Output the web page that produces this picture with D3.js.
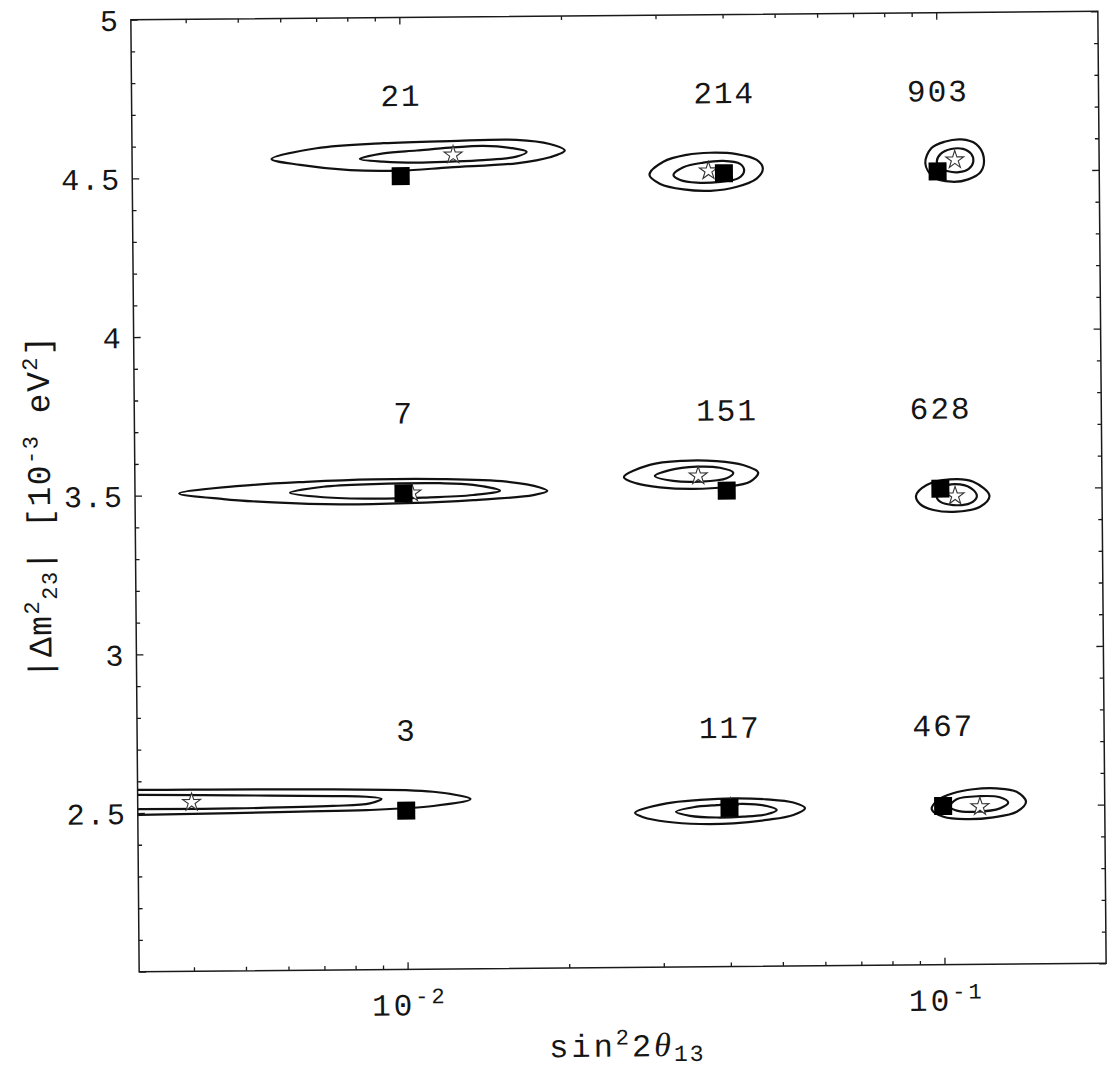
<!DOCTYPE html>
<html>
<head>
<meta charset="utf-8">
<script src="https://cdn.jsdelivr.net/npm/d3@7"></script>
<style>
  html, body { margin: 0; padding: 0; background: #fff; }
  svg { display: block; }
  text { font-family: "Liberation Mono", "DejaVu Sans Mono", monospace; fill: #151515; }
</style>
</head>
<body>
<svg id="chart" width="1108" height="1070"></svg>
<script>
// ---- grid of simulated true values (filled squares) ----
const trueSin2 = [0.01, 0.04, 0.1];          // sin^2 2theta13 columns
const trueDm2  = [2.5, 3.5, 4.5];            // |dm^2_23| rows [1e-3 eV^2]
// event counts printed above each point, rows bottom -> top, columns left -> right
const eventCounts = [
  [3, 117, 467],
  [7, 151, 628],
  [21, 214, 903]
];

// ---- best-fit points (open stars): [sin^2 2theta13, dm^2] ----
const bestFit = [
  [0.003985, 2.532], [0.0402, 2.502], [0.1171, 2.497],
  [0.01037, 3.501], [0.03542, 3.547], [0.1065, 3.477],
  [0.01253, 4.565], [0.03743, 4.508], [0.1077, 4.536]
];

// ---- allowed regions: inner and outer confidence contours ----
const outer3 = [[0.0028,2.574],[0.003192,2.573],[0.007311,2.569],[0.01123,2.559],[0.01318,2.535],[0.01123,2.514],[0.008438,2.503],[0.006338,2.500],[0.004763,2.497],[0.003192,2.494],[0.0028,2.494]];
const inner3 = [[0.0028,2.557],[0.003192,2.557],[0.004763,2.553],[0.007311,2.548],[0.008438,2.545],[0.0090,2.538],[0.00856,2.524],[0.007311,2.517],[0.004763,2.512],[0.003192,2.512],[0.0028,2.512]];

const outer117 = [[0.02668,2.487],[0.03055,2.516],[0.03525,2.526],[0.04067,2.530],[0.04693,2.526],[0.0526,2.515],[0.0553,2.497],[0.0526,2.476],[0.04693,2.461],[0.04067,2.451],[0.03525,2.450],[0.03055,2.458],[0.02764,2.473]];
const inner117 = [[0.0318,2.489],[0.03425,2.503],[0.03787,2.509],[0.04245,2.512],[0.04693,2.505],[0.04898,2.492],[0.04693,2.479],[0.04245,2.472],[0.03787,2.470],[0.03377,2.476]];

const outer467 = [[0.09522,2.490],[0.0978,2.519],[0.1044,2.540],[0.1138,2.552],[0.1258,2.554],[0.1371,2.543],[0.1427,2.511],[0.1371,2.480],[0.1240,2.463],[0.1106,2.458],[0.1001,2.466]];
const inner467 = [[0.1030,2.498],[0.1060,2.521],[0.1171,2.530],[0.1276,2.526],[0.1322,2.509],[0.1276,2.491],[0.1155,2.481],[0.1060,2.485]];

const outer7 = [[0.003823,3.506],[0.004961,3.528],[0.006601,3.539],[0.008786,3.545],[0.0117,3.544],[0.01557,3.534],[0.01796,3.515],[0.01853,3.504],[0.01745,3.491],[0.01349,3.477],[0.01014,3.469],[0.007614,3.467],[0.005722,3.475],[0.00462,3.487]];
const inner7 = [[0.006146,3.505],[0.007089,3.523],[0.008786,3.530],[0.0117,3.531],[0.01349,3.525],[0.01513,3.506],[0.01349,3.493],[0.01089,3.486],[0.008786,3.484],[0.007089,3.490]];

const outer151 = [[0.02575,3.545],[0.02878,3.583],[0.0332,3.595],[0.03834,3.593],[0.04295,3.580],[0.04581,3.556],[0.04421,3.527],[0.0400,3.512],[0.03467,3.506],[0.03004,3.512],[0.02719,3.525]];
const inner151 = [[0.02941,3.548],[0.03136,3.566],[0.03518,3.576],[0.03889,3.572],[0.04117,3.556],[0.0400,3.539],[0.03568,3.529],[0.03181,3.532]];

const outer628 = [[0.09007,3.478],[0.09432,3.512],[0.1042,3.529],[0.1152,3.521],[0.1234,3.476],[0.1185,3.442],[0.1073,3.427],[0.09703,3.433],[0.09165,3.452]];
const inner628 = [[0.09845,3.475],[0.1013,3.506],[0.1088,3.513],[0.1152,3.495],[0.1169,3.474],[0.1135,3.453],[0.1057,3.448],[0.09984,3.459]];

const outer21 = [[0.00575,4.557],[0.00698,4.590],[0.00929,4.604],[0.01236,4.609],[0.01644,4.611],[0.01897,4.597],[0.02023,4.576],[0.01897,4.555],[0.01644,4.537],[0.01236,4.526],[0.00998,4.517],[0.00805,4.520],[0.0065,4.538]];
const inner21 = [[0.0084,4.555],[0.00929,4.572],[0.01072,4.580],[0.01236,4.588],[0.01426,4.593],[0.0160,4.586],[0.01718,4.573],[0.01644,4.558],[0.01426,4.548],[0.01236,4.544],[0.01072,4.542],[0.00929,4.546]];

const outer214 = [[0.02906,4.497],[0.03086,4.538],[0.03412,4.559],[0.03771,4.565],[0.04228,4.560],[0.04607,4.541],[0.04727,4.514],[0.04607,4.483],[0.04228,4.457],[0.03771,4.445],[0.03362,4.450],[0.03042,4.468]];
const inner214 = [[0.03221,4.496],[0.03362,4.520],[0.03664,4.534],[0.03991,4.539],[0.04288,4.529],[0.04362,4.507],[0.04257,4.484],[0.03936,4.473],[0.03561,4.471],[0.03315,4.480]];

const outer903 = [[0.0949,4.526],[0.0974,4.573],[0.1031,4.593],[0.1108,4.600],[0.1181,4.585],[0.1219,4.545],[0.1204,4.498],[0.1140,4.474],[0.1061,4.467],[0.0981,4.483]];
const inner903 = [[0.0997,4.531],[0.1014,4.555],[0.1061,4.570],[0.1116,4.570],[0.1156,4.554],[0.1166,4.530],[0.1143,4.507],[0.1095,4.497],[0.1046,4.500],[0.1010,4.512]];

const contours = [outer3, inner3, outer117, inner117, outer467, inner467,
                  outer7, inner7, outer151, inner151, outer628, inner628,
                  outer21, inner21, outer214, inner214, outer903, inner903];

// ---- axis ticks ----
const xMajorTicks = [0.01, 0.1];
const xMajorLabels = [["10", "-2"], ["10", "-1"]];
const xMinorTicks = [0.004, 0.005, 0.006, 0.007, 0.008, 0.009,
                     0.02, 0.03, 0.04, 0.05, 0.06, 0.07, 0.08, 0.09];
const yMajorTicks = [2, 2.5, 3, 3.5, 4, 4.5, 5];
const yLabelTicks = [2.5, 3, 3.5, 4, 4.5, 5];
const yLabelText = ["2.5", "3", "3.5", "4", "4.5", "5"];
const yMinorTicks = [2.1, 2.2, 2.3, 2.4, 2.6, 2.7, 2.8, 2.9, 3.1, 3.2, 3.3, 3.4,
                     3.6, 3.7, 3.8, 3.9, 4.1, 4.2, 4.3, 4.4, 4.6, 4.7, 4.8, 4.9];

// ---- layout ----
const plot = { left: 135, right: 1102, top: 15.5, bottom: 967.5 };
const tilt = -0.5; // the printed frame sits slightly rotated on the page
const cx = (plot.left + plot.right) / 2, cy = (plot.top + plot.bottom) / 2;

const x = d3.scaleLog().domain([Math.pow(10, -2.5), 0.2]).range([plot.left, plot.right]);
const y = d3.scaleLinear().domain([2, 5]).range([plot.bottom, plot.top]);

const svg = d3.select("#chart");
const g = svg.append("g").attr("transform", `rotate(${tilt} ${cx} ${cy})`);

svg.append("defs").append("clipPath").attr("id", "plotClip")
  .append("rect")
  .attr("x", plot.left).attr("y", plot.top)
  .attr("width", plot.right - plot.left).attr("height", plot.bottom - plot.top);

// contours
const line = d3.line()
  .x(d => x(d[0])).y(d => y(d[1]))
  .curve(d3.curveCatmullRomClosed.alpha(0.5));

g.append("g").attr("clip-path", "url(#plotClip)")
  .selectAll("path").data(contours).join("path")
  .attr("d", line)
  .attr("fill", "none")
  .attr("stroke", "#111")
  .attr("stroke-width", 2.2)
  .attr("stroke-linejoin", "round");

// best-fit stars
const star = d3.symbol(d3.symbolStar).size(100);
g.append("g").selectAll("path").data(bestFit).join("path")
  .attr("transform", d => `translate(${x(d[0])},${y(d[1])})`)
  .attr("d", star)
  .attr("fill", "#fff")
  .attr("stroke", "#333")
  .attr("stroke-width", 1.1);

// true-value squares and event counts
const cells = [];
trueDm2.forEach((dm, i) => trueSin2.forEach((s, j) =>
  cells.push({ s, dm, n: eventCounts[i][j] })));

const square = d3.symbol(d3.symbolSquare).size(18 * 18);
g.append("g").selectAll("path").data(cells).join("path")
  .attr("transform", d => `translate(${x(d.s)},${y(d.dm)})`)
  .attr("d", square)
  .attr("fill", "#000");

g.append("g").selectAll("text").data(cells).join("text")
  .attr("x", d => x(d.s) + 1)
  .attr("y", d => y(d.dm) - 70)
  .attr("text-anchor", "middle")
  .style("font-size", "31px")
  .style("letter-spacing", "2px")
  .text(d => d.n);

// frame
g.append("rect")
  .attr("x", plot.left).attr("y", plot.top)
  .attr("width", plot.right - plot.left).attr("height", plot.bottom - plot.top)
  .attr("fill", "none").attr("stroke", "#1a1a1a").attr("stroke-width", 1.5);

// inward ticks on all four sides
function ticks(axis, at, values, len) {
  g.append("g").attr("transform", at)
    .call(axis.tickValues(values).tickSize(-len).tickSizeOuter(0).tickFormat(""))
    .call(s => s.select(".domain").remove())
    .call(s => s.selectAll("line").attr("stroke", "#1a1a1a").attr("stroke-width", 1.3));
}
ticks(d3.axisBottom(x), `translate(0,${plot.bottom})`, xMajorTicks, 7);
ticks(d3.axisBottom(x), `translate(0,${plot.bottom})`, xMinorTicks, 4);
ticks(d3.axisTop(x), `translate(0,${plot.top})`, xMajorTicks, 7);
ticks(d3.axisTop(x), `translate(0,${plot.top})`, xMinorTicks, 4);
ticks(d3.axisLeft(y), `translate(${plot.left},0)`, yMajorTicks, 7);
ticks(d3.axisLeft(y), `translate(${plot.left},0)`, yMinorTicks, 4);
ticks(d3.axisRight(y), `translate(${plot.right},0)`, yMajorTicks, 7);
ticks(d3.axisRight(y), `translate(${plot.right},0)`, yMinorTicks, 4);

// y tick labels
g.append("g").selectAll("text").data(yLabelTicks).join("text")
  .attr("x", plot.left - 11)
  .attr("y", d => y(d) + 11)
  .attr("text-anchor", "end")
  .style("font-size", "30px")
  .style("letter-spacing", "2px")
  .text((d, i) => yLabelText[i]);

// x tick labels (powers of ten)
const xl = g.append("g").selectAll("text").data(xMajorTicks).join("text")
  .attr("x", d => x(d) + 2)
  .attr("y", plot.bottom + 46)
  .attr("text-anchor", "middle")
  .style("font-size", "31px")
  .style("letter-spacing", "3px");
xl.append("tspan").text((d, i) => xMajorLabels[i][0]);
xl.append("tspan").attr("dy", -12).style("font-size", "22px")
  .text((d, i) => xMajorLabels[i][1]);

// x axis title
const xt = g.append("text")
  .attr("x", cx + 4).attr("y", plot.bottom + 89)
  .attr("text-anchor", "middle")
  .style("font-size", "32px")
  .style("letter-spacing", "3px");
xt.append("tspan").text("sin");
xt.append("tspan").attr("dy", -12).style("font-size", "22px").text("2");
xt.append("tspan").attr("dy", 12).text("2");
xt.append("tspan").style("font-family", "'Liberation Serif', serif")
  .style("font-style", "italic").style("font-size", "34px").text("θ");
xt.append("tspan").attr("dy", 5).style("font-size", "23px").style("letter-spacing", "2px").text("13");

// y axis title
const yt = g.append("text")
  .attr("transform", `translate(50,${cy + 10}) rotate(-90)`)
  .attr("text-anchor", "middle")
  .style("font-size", "33px")
  .style("letter-spacing", "1.5px");
yt.append("tspan").text("|Δm");
yt.append("tspan").attr("dy", -12).style("font-size", "22px").text("2");
yt.append("tspan").attr("dy", 18).style("font-size", "22px").text("23");
yt.append("tspan").attr("dy", -6).text("|  [10");
yt.append("tspan").attr("dy", -12).style("font-size", "22px").text("-3");
yt.append("tspan").attr("dy", 12).text("  eV");
yt.append("tspan").attr("dy", -12).style("font-size", "22px").text("2");
yt.append("tspan").attr("dy", 12).text("]");
</script>
</body>
</html>
